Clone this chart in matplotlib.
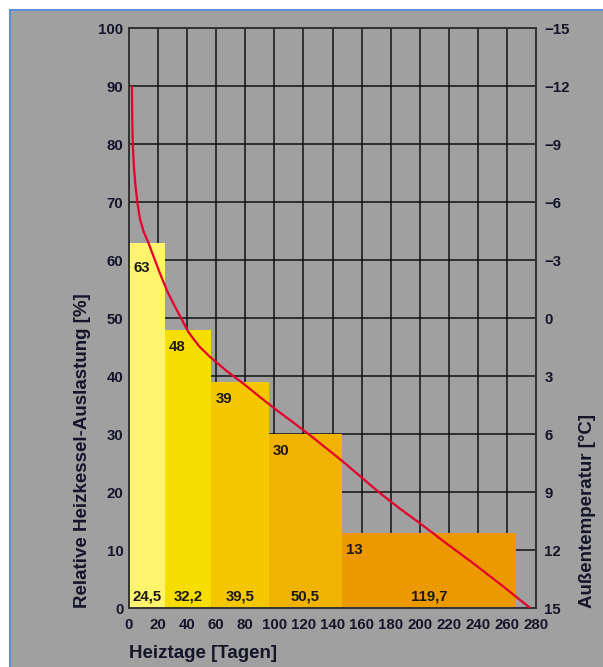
import matplotlib
matplotlib.use("Agg")
import matplotlib.pyplot as plt
from matplotlib.patches import Rectangle
from matplotlib.lines import Line2D

plt.rcParams['font.family'] = ['Liberation Sans', 'DejaVu Sans']

# Heating days per load level and the corresponding boiler load (%)
days = [24.5, 32.2, 39.5, 50.5, 119.7]
load = [63, 48, 39, 30, 13]
day_labels = ["24,5", "32,2", "39,5", "50,5", "119,7"]
bar_colors = ["#fff46b", "#f6df00", "#f4c700", "#efb300", "#ec9900"]

# Outdoor temperature duration curve expressed on the load axis
curve_days = [2.0, 2.2, 2.6, 3.4, 4.4, 5.7, 7.6, 10.2, 13.3, 17.2, 21.3, 26.5,
              32.8, 40.8, 48.0, 55.7, 66.5, 78.6, 90.0, 101.6, 113.0, 124.5,
              136.0, 147.4, 160.0, 172.7, 186.0, 200.2, 218.0, 236.9, 256.0, 276.0]
curve_load = [90.0, 85.0, 80.0, 76.0, 73.0, 70.0, 67.0, 64.8, 63.0, 60.4, 57.7, 54.5,
              51.4, 47.6, 45.2, 43.3, 41.0, 38.7, 36.4, 34.1, 32.0, 29.8,
              27.5, 25.2, 22.5, 19.8, 17.2, 14.6, 11.2, 7.7, 4.0, 0.0]

x_ticks = list(range(0, 281, 20))
y_ticks = list(range(0, 101, 10))
temp_ticks = [15, 12, 9, 6, 3, 0, -3, -6, -9, -12, -15]

W, H = 603, 667
fig = plt.figure(figsize=(W / 100, H / 100), dpi=100, facecolor="white")

# Window-like panel: grey body with a thin blue edge along top and left
fig.patches.append(Rectangle((11 / W, 0), 1.0, (H - 11) / H,
                             transform=fig.transFigure, facecolor="#a0a0a0",
                             edgecolor="none", zorder=-10))
fig.lines.append(Line2D([10 / W, 10 / W], [0, (H - 10) / H], transform=fig.transFigure,
                        color="#5b8fd6", linewidth=1.5))
fig.lines.append(Line2D([10 / W, 1], [(H - 10) / H, (H - 10) / H], transform=fig.transFigure,
                        color="#5b8fd6", linewidth=1.5))

ax = fig.add_axes([129 / W, 59 / H, 407 / W, 580 / H])
ax.set_facecolor("#a0a0a0")
ax.set_xlim(0, 280)
ax.set_ylim(0, 100)

ax.set_xticks(x_ticks)
ax.set_yticks(y_ticks)
ax.grid(True, color="#111111", linewidth=1.1, zorder=0)
ax.set_axisbelow(True)

tick_color = "#15152a"
fs = 10.8
ax.tick_params(axis="both", length=0, labelsize=fs, colors=tick_color)
ax.tick_params(axis="x", pad=7.5)
ax.tick_params(axis="y", pad=4)
for lab in ax.get_xticklabels() + ax.get_yticklabels():
    lab.set_fontweight("bold")

for side in ["left", "bottom", "right", "top"]:
    ax.spines[side].set_color("#333333")
    ax.spines[side].set_linewidth(1.4)

# Stepped bars
left = 0.0
for i, (w, h) in enumerate(zip(days, load)):
    ax.bar(left, h, width=w, align="edge", color=bar_colors[i], edgecolor="none", zorder=2)
    dy = -18 if i == 0 else -12.5
    ax.annotate(str(h), xy=(left, h), xytext=(3, dy), textcoords="offset points",
                ha="left", va="center", fontsize=fs, fontweight="bold",
                color="#1a1a1a", zorder=4)
    ax.annotate(day_labels[i], xy=(left + w / 2, 0), xytext=(0, 8.5),
                textcoords="offset points", ha="center", va="center",
                fontsize=fs, fontweight="bold", color="#1a1a1a", zorder=4)
    left += w

ax.plot(curve_days, curve_load, color="#e4002b", linewidth=1.6, zorder=5,
        solid_capstyle="butt", solid_joinstyle="round")

ax.set_xlabel("Heiztage [Tagen]", fontsize=13.5, fontweight="bold", color=tick_color,
              loc="left", labelpad=9)
ax.set_ylabel("Relative Heizkessel-Auslastung [%]", fontsize=13.5, fontweight="bold",
              color=tick_color, loc="bottom", labelpad=5.5)

# Outdoor temperature scale on the right
ax2 = ax.twinx()
ax2.set_ylim(15, -15)
ax2.set_yticks(temp_ticks)
ax2.set_yticklabels([f"{t:d}".replace("-", "\u2212") for t in temp_ticks])
ax2.tick_params(axis="y", length=0, labelsize=fs, colors=tick_color, pad=6)
for lab in ax2.get_yticklabels():
    lab.set_fontweight("bold")
for side in ["left", "bottom", "right", "top"]:
    ax2.spines[side].set_visible(False)
ax2.set_ylabel("Außentemperatur [°C]", fontsize=13.5, fontweight="bold",
               color=tick_color, loc="bottom", labelpad=6.5)

fig.savefig("out.png", dpi=100, facecolor="white")
